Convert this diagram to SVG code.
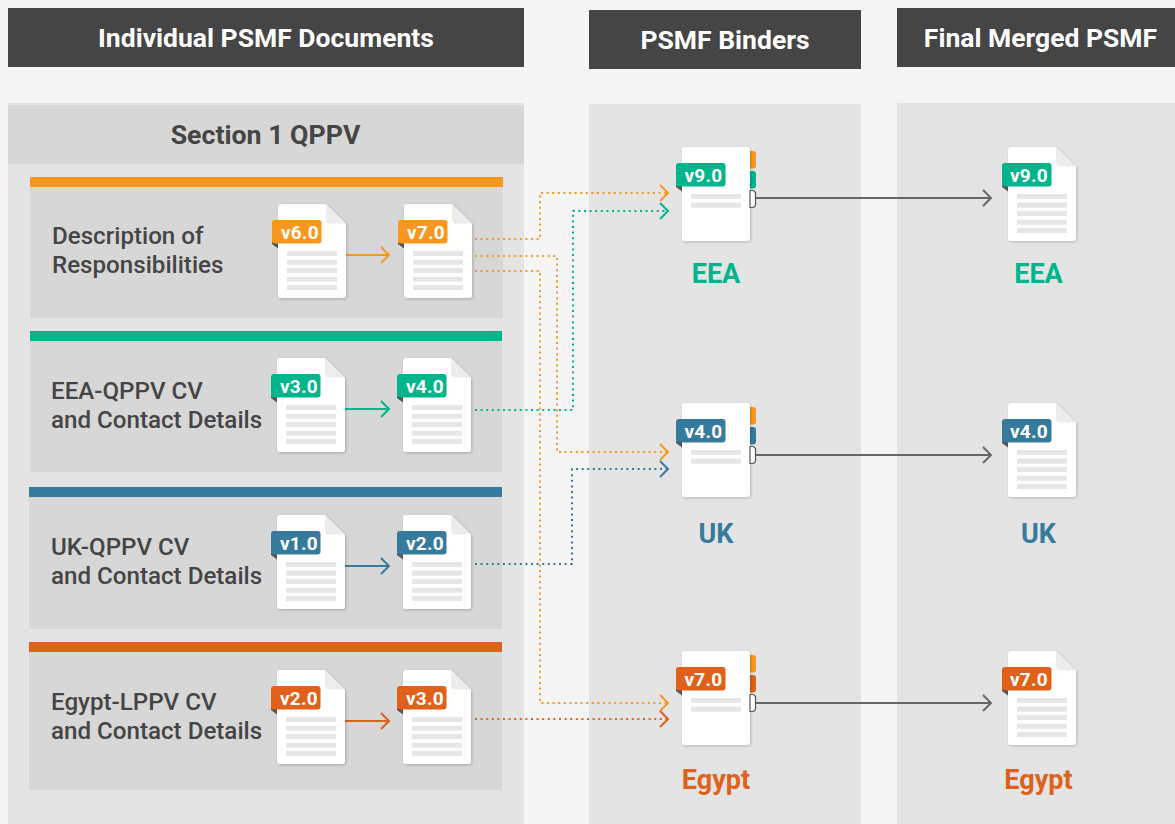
<svg xmlns="http://www.w3.org/2000/svg" xmlns:xlink="http://www.w3.org/1999/xlink" width="1175" height="824" viewBox="0 0 1175 824">
<style>
text{font-family:Roboto,"Liberation Sans",sans-serif;font-weight:700}
.hd{fill:#454545}.hdt{fill:#fff;font-size:26.500px;text-anchor:middle;font-weight:700}
.panel{fill:#e4e4e4}.row{fill:#d7d7d7}
.lbl{fill:#454545;font-size:24.150px;font-weight:500}
.tagt{fill:#fff;font-size:19px;text-anchor:middle;font-weight:700;letter-spacing:.3px}
.bn{font-size:27px;text-anchor:middle;font-weight:700}
.or{fill:#f8971d}.te{fill:#00b48c}.bl{fill:#377b9c}.eg{fill:#e0611a}
.con{fill:none;stroke-width:2}
.dot{stroke-dasharray:2 3.6}
.sor{stroke:#f8971d}.ste{stroke:#00b48c}.sbl{stroke:#377b9c}.seg{stroke:#e0611a}.sgr{stroke:#666}
</style>
<defs>
<filter id="sh" x="-20%" y="-20%" width="140%" height="140%"><feDropShadow dx="1" dy="1" stdDeviation="1.5" flood-color="#000" flood-opacity=".22"/></filter>
<g id="lines"><rect x="9" y="47" width="50" height="5" fill="#e6e6e6"/><rect x="9" y="55.700" width="50" height="5" fill="#e6e6e6"/></g>
<g id="doc">
<path d="M3 0H48L68 20V91a3 3 0 0 1-3 3H3a3 3 0 0 1-3-3V3a3 3 0 0 1 3-3Z" fill="#fff" filter="url(#sh)"/>
<path d="M48 0L68 19.500H52a4 4 0 0 1-4-4Z" fill="#ececec"/>
<use xlink:href="#lines"/>
<rect x="9" y="64" width="50" height="5" fill="#e6e6e6"/><rect x="9" y="72.700" width="50" height="5" fill="#e6e6e6"/><rect x="9" y="81" width="50" height="5" fill="#e6e6e6"/>
</g>
<g id="binder">
<path d="M3 0H65a3 3 0 0 1 3 3V91a3 3 0 0 1-3 3H3a3 3 0 0 1-3-3V3a3 3 0 0 1 3-3Z" fill="#fff" filter="url(#sh)"/>
<use xlink:href="#lines"/>
<path d="M68 43.500h3.500l2 2v13l-2 2H68Z" fill="#fff" stroke="#555" stroke-width="1.200"/>
</g>
<path id="fold" d="M-6 38V40L0 44.500V38Z" fill="#555"/>
<marker id="aor" markerUnits="userSpaceOnUse" markerWidth="14" markerHeight="18" refX="11" refY="8" orient="auto" overflow="visible"><path d="M3 0L11 8L3 16" fill="none" stroke="#f8971d" stroke-width="2"/></marker>
<marker id="ate" markerUnits="userSpaceOnUse" markerWidth="14" markerHeight="18" refX="11" refY="8" orient="auto" overflow="visible"><path d="M3 0L11 8L3 16" fill="none" stroke="#00b48c" stroke-width="2"/></marker>
<marker id="abl" markerUnits="userSpaceOnUse" markerWidth="14" markerHeight="18" refX="11" refY="8" orient="auto" overflow="visible"><path d="M3 0L11 8L3 16" fill="none" stroke="#377b9c" stroke-width="2"/></marker>
<marker id="aeg" markerUnits="userSpaceOnUse" markerWidth="14" markerHeight="18" refX="11" refY="8" orient="auto" overflow="visible"><path d="M3 0L11 8L3 16" fill="none" stroke="#e0611a" stroke-width="2"/></marker>
<marker id="agr" markerUnits="userSpaceOnUse" markerWidth="14" markerHeight="18" refX="11" refY="8" orient="auto" overflow="visible"><path d="M3 0L11 8L3 16" fill="none" stroke="#666" stroke-width="2"/></marker>
</defs>
<rect width="1175" height="824" fill="#f5f5f5"/>
<g id="column-individual">
<rect class="hd" x="8" y="8" width="516" height="59"/>
<text class="hdt" x="266" y="47">Individual PSMF Documents</text>
<rect class="panel" x="8" y="103" width="516" height="721"/>
<rect class="row" x="8" y="105" width="516" height="59"/>
<text x="265.500" y="144" text-anchor="middle" font-size="26.700" fill="#454545">Section 1 QPPV</text>
<rect class="or" x="30" y="177" width="473" height="10"/><rect class="row" x="30" y="187" width="473" height="131"/>
<rect class="te" x="30" y="331" width="472" height="10"/><rect class="row" x="30" y="341" width="472" height="131"/>
<rect class="bl" x="29" y="487" width="473" height="10"/><rect class="row" x="29" y="497" width="473" height="132"/>
<rect class="eg" x="29" y="642" width="473" height="10"/><rect class="row" x="29" y="652" width="473" height="138"/>
<text class="lbl" x="52" y="244">Description of</text><text class="lbl" x="52" y="273">Responsibilities</text>
<text class="lbl" x="51" y="399">EEA-QPPV CV</text><text class="lbl" x="51" y="428">and Contact Details</text>
<text class="lbl" x="51" y="555">UK-QPPV CV</text><text class="lbl" x="51" y="584">and Contact Details</text>
<text class="lbl" x="51" y="710">Egypt-LPPV CV</text><text class="lbl" x="51" y="739">and Contact Details</text>
</g>
<g id="column-binders">
<rect class="hd" x="589" y="10" width="272" height="59"/>
<text class="hdt" x="725" y="49">PSMF Binders</text>
<rect class="panel" x="589" y="104" width="272" height="720"/>
</g>
<g id="column-final">
<rect class="hd" x="897" y="8" width="278" height="59"/>
<text class="hdt" x="1040.500" y="47">Final Merged PSMF</text>
<rect class="panel" x="897" y="103" width="278" height="721"/>
</g>
<g id="connectors">
<path class="con sor" d="M346 255H389" marker-end="url(#aor)"/>
<path class="con ste" d="M345 409H389" marker-end="url(#ate)"/>
<path class="con sbl" d="M345 566H389" marker-end="url(#abl)"/>
<path class="con seg" d="M345 721H389" marker-end="url(#aeg)"/>
<path class="con dot sor" d="M475 239H540V193H668" marker-end="url(#aor)"/>
<path class="con dot sor" d="M475 256H557V452H668" marker-end="url(#aor)"/>
<path class="con dot sor" d="M475 271H540V703H668" marker-end="url(#aor)"/>
<path class="con dot ste" d="M475 410H573V211H668" marker-end="url(#ate)"/>
<path class="con dot sbl" d="M475 564H572V469H668" marker-end="url(#abl)"/>
<path class="con dot seg" d="M475 719H668" marker-end="url(#aeg)"/>
<path class="con sgr" d="M755 198H991" marker-end="url(#agr)"/>
<path class="con sgr" d="M755 455H991" marker-end="url(#agr)"/>
<path class="con sgr" d="M755 703H991" marker-end="url(#agr)"/>
</g>
<g id="doc-desc-v6" transform="translate(278 204)"><use xlink:href="#doc"/><use xlink:href="#fold"/><rect class="or" x="-6" y="16" width="49.500" height="23.500" rx="3"/><text class="tagt" x="22" y="34.500">v6.0</text></g>
<g id="doc-desc-v7" transform="translate(404 204)"><use xlink:href="#doc"/><use xlink:href="#fold"/><rect class="or" x="-6" y="16" width="49.500" height="23.500" rx="3"/><text class="tagt" x="22" y="34.500">v7.0</text></g>
<g id="doc-eea-v3" transform="translate(277 358)"><use xlink:href="#doc"/><use xlink:href="#fold"/><rect class="te" x="-6" y="16" width="49.500" height="23.500" rx="3"/><text class="tagt" x="22" y="34.500">v3.0</text></g>
<g id="doc-eea-v4" transform="translate(403 358)"><use xlink:href="#doc"/><use xlink:href="#fold"/><rect class="te" x="-6" y="16" width="49.500" height="23.500" rx="3"/><text class="tagt" x="22" y="34.500">v4.0</text></g>
<g id="doc-uk-v1" transform="translate(277 515)"><use xlink:href="#doc"/><use xlink:href="#fold"/><rect class="bl" x="-6" y="16" width="49.500" height="23.500" rx="3"/><text class="tagt" x="22" y="34.500">v1.0</text></g>
<g id="doc-uk-v2" transform="translate(403 515)"><use xlink:href="#doc"/><use xlink:href="#fold"/><rect class="bl" x="-6" y="16" width="49.500" height="23.500" rx="3"/><text class="tagt" x="22" y="34.500">v2.0</text></g>
<g id="doc-egypt-v2" transform="translate(277 670)"><use xlink:href="#doc"/><use xlink:href="#fold"/><rect class="eg" x="-6" y="16" width="49.500" height="23.500" rx="3"/><text class="tagt" x="22" y="34.500">v2.0</text></g>
<g id="doc-egypt-v3" transform="translate(403 670)"><use xlink:href="#doc"/><use xlink:href="#fold"/><rect class="eg" x="-6" y="16" width="49.500" height="23.500" rx="3"/><text class="tagt" x="22" y="34.500">v3.0</text></g>
<g id="binder-eea" transform="translate(682 147)"><rect class="or" x="66" y="4" width="8" height="17.500" rx="3"/><rect class="te" x="66" y="24" width="8" height="17.500" rx="3"/><use xlink:href="#binder"/><use xlink:href="#fold"/><rect class="te" x="-6" y="16" width="49.500" height="23.500" rx="3"/><text class="tagt" x="21.500" y="34.500">v9.0</text><text class="bn te" x="34" y="135.500">EEA</text></g>
<g id="binder-uk" transform="translate(682 403)"><rect class="or" x="66" y="4" width="8" height="17.500" rx="3"/><rect class="bl" x="66" y="24" width="8" height="17.500" rx="3"/><use xlink:href="#binder"/><use xlink:href="#fold"/><rect class="bl" x="-6" y="16" width="49.500" height="23.500" rx="3"/><text class="tagt" x="21.500" y="34.500">v4.0</text><text class="bn bl" x="34" y="139.500">UK</text></g>
<g id="binder-egypt" transform="translate(682 651)"><rect class="or" x="66" y="4" width="8" height="17.500" rx="3"/><rect class="eg" x="66" y="24" width="8" height="17.500" rx="3"/><use xlink:href="#binder"/><use xlink:href="#fold"/><rect class="eg" x="-6" y="16" width="49.500" height="23.500" rx="3"/><text class="tagt" x="21.500" y="34.500">v7.0</text><text class="bn eg" x="34" y="137.500">Egypt</text></g>
<g id="final-eea" transform="translate(1008 147)"><use xlink:href="#doc"/><use xlink:href="#fold"/><rect class="te" x="-6" y="16" width="49.500" height="23.500" rx="3"/><text class="tagt" x="21" y="34.500">v9.0</text><text class="bn te" x="30.500" y="135.500">EEA</text></g>
<g id="final-uk" transform="translate(1008 403)"><use xlink:href="#doc"/><use xlink:href="#fold"/><rect class="bl" x="-6" y="16" width="49.500" height="23.500" rx="3"/><text class="tagt" x="21" y="34.500">v4.0</text><text class="bn bl" x="30.500" y="139.500">UK</text></g>
<g id="final-egypt" transform="translate(1008 651)"><use xlink:href="#doc"/><use xlink:href="#fold"/><rect class="eg" x="-6" y="16" width="49.500" height="23.500" rx="3"/><text class="tagt" x="21" y="34.500">v7.0</text><text class="bn eg" x="30.500" y="137.500">Egypt</text></g>
</svg>
